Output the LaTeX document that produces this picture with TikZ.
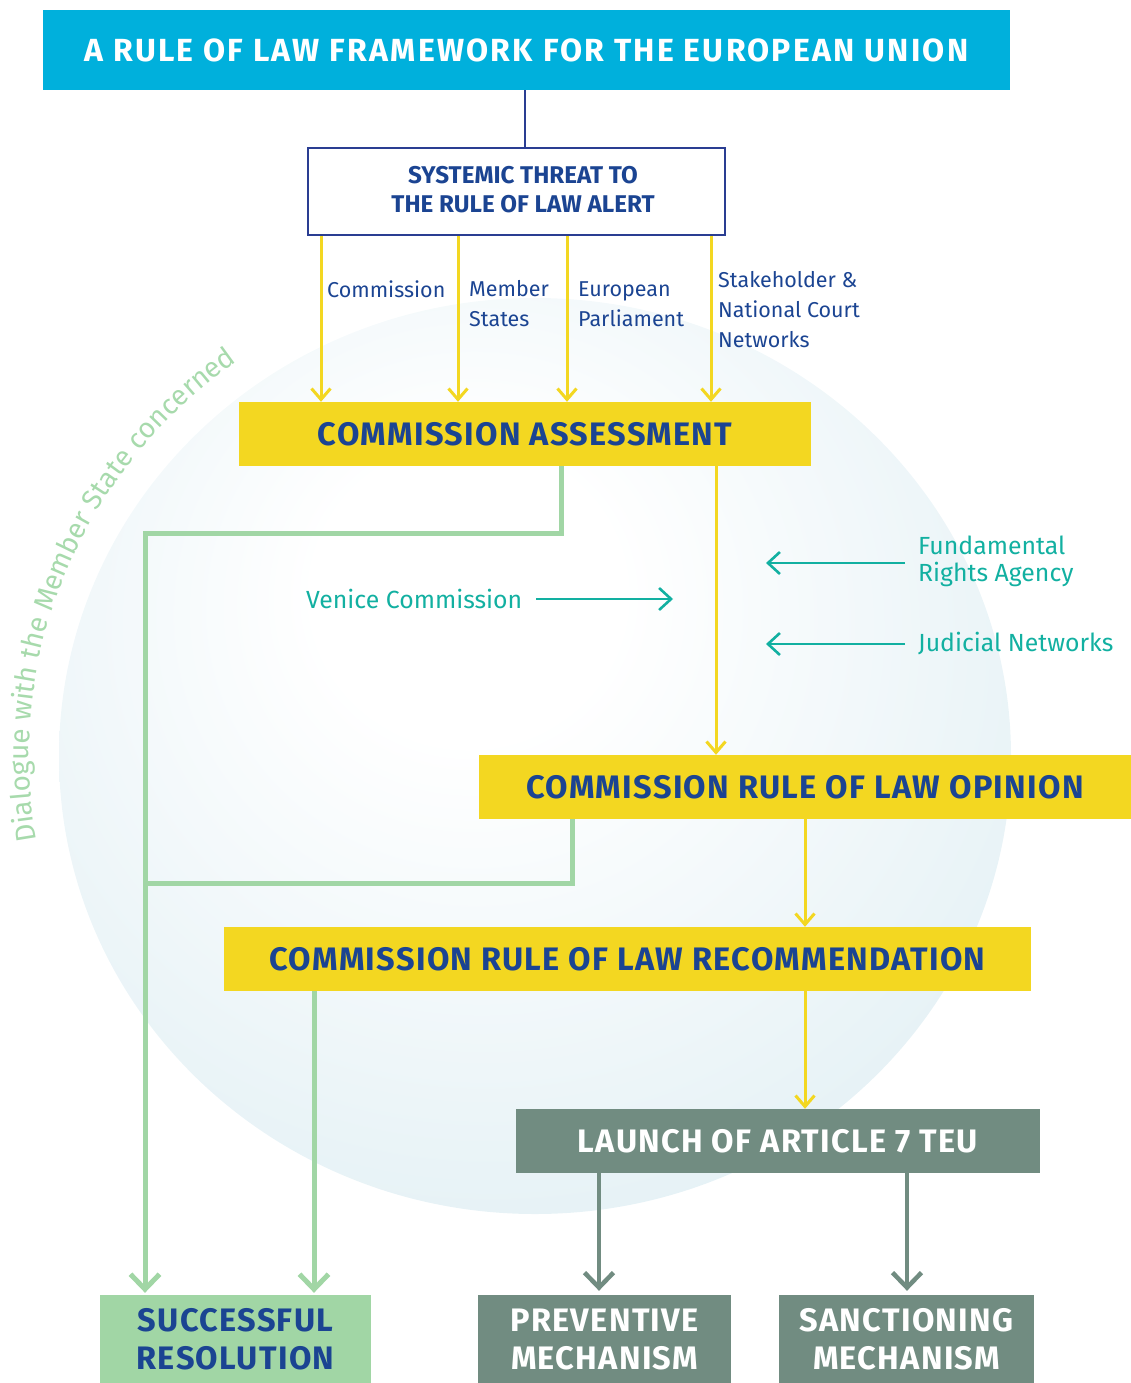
\documentclass[tikz,border=0pt]{standalone}
\usepackage{fontspec}
\setmainfont{Fira Sans}
\usetikzlibrary{arrows.meta,decorations.text}
\definecolor{ecblue}{HTML}{00B0DC}
\definecolor{navy}{HTML}{1B4492}
\definecolor{threatblue}{HTML}{2A3D92}
\definecolor{yel}{HTML}{F3D721}
\definecolor{grn}{HTML}{A1D6A5}
\definecolor{grey}{HTML}{718C81}
\definecolor{tealc}{HTML}{12B0A1}
\definecolor{dgreen}{HTML}{A7DAAC}
\definecolor{bubbleedge}{HTML}{E1EFF4}
\pgfdeclareradialshading{bubble}{\pgfpoint{-4bp}{10bp}}{color(0bp)=(white); color(8bp)=(white); color(36bp)=(bubbleedge); color(70bp)=(bubbleedge)}
\newcommand\hdrfont{\fontsize{32}{36}\selectfont\bfseries\addfontfeature{LetterSpace=7}}
\newcommand\bigfont{\fontsize{32.5}{38}\selectfont\bfseries\addfontfeature{LetterSpace=4}}
\newcommand\threatfont{\fontsize{24.2}{29}\selectfont\bfseries}
\newcommand\labfont{\fontsize{21.5}{30}\selectfont}
\newcommand\tealfont{\fontsize{24.8}{27}\selectfont}
\newcommand\dialfont{\fontsize{28}{28}\selectfont}
\begin{document}
\begin{tikzpicture}[x=1pt,y=-1pt,
  hdr/.style={fill=ecblue,text=white,minimum width=967pt,minimum height=80pt,inner sep=0pt,font=\hdrfont},
  threatbox/.style={draw=threatblue,line width=2.5pt,fill=white,minimum width=417pt,minimum height=87pt,inner sep=0pt},
  threattext/.style={text=navy,inner sep=0pt,align=center,font=\threatfont},
  ybox/.style={fill=yel,text=navy,minimum height=64pt,inner sep=0pt,font=\bigfont},
  gbox/.style={fill=grey,text=white,inner sep=0pt,align=center,font=\bigfont},
  sbox/.style={fill=grn,text=navy,inner sep=0pt,align=center,font=\bigfont},
  blab/.style={text=navy,inner sep=0pt,align=left,anchor=west,font=\labfont},
  tlab/.style={text=tealc,inner sep=0pt,align=left,anchor=west,font=\tealfont},
  yarrow/.style={draw=yel,line width=3pt,-{Straight Barb[length=11pt,width=19pt]}},
  gline/.style={draw=grn,line width=5pt},
  garrow/.style={draw=grn,line width=5pt,-{Straight Barb[length=15pt,width=29pt]},shorten >=2pt},
  karrow/.style={draw=grey,line width=4.5pt,-{Straight Barb[length=15pt,width=29pt]},shorten >=4pt},
  tarrow/.style={draw=tealc,line width=2.6pt,-{Straight Barb[length=12pt,width=22pt]}}
]
\useasboundingbox (0,0) rectangle (1131,1383);
% background bubble
\shade[shading=bubble] (535,756) ellipse [x radius=476, y radius=458];
% dialogue text
\path[decorate,decoration={text along path,text color=dgreen,text align=left,
  text={|\dialfont|Dialogue with the Member State concerned}}]
  (36.7,840.7) arc[start angle=170,end angle=236,x radius=506,y radius=488];
% coordinates
\coordinate (xa) at (321,0);
\coordinate (xb) at (458,0);
\coordinate (xc) at (567,0);
\coordinate (xd) at (711,0);
\coordinate (xe) at (716,0);
\coordinate (xf) at (805,0);
\coordinate (xh) at (525,0);
\coordinate (ga) at (561,0);
\coordinate (gb) at (572,0);
\coordinate (gc) at (145,533);
\coordinate (gd) at (145,883);
\coordinate (ge) at (314,0);
\coordinate (ka) at (599,0);
\coordinate (kb) at (907,0);
\coordinate (vend) at (673,599);
\coordinate (fend) at (766,563);
\coordinate (jend) at (766,644);
% nodes
\node[hdr] (header) at (526.5,50) {A RULE OF LAW FRAMEWORK FOR THE EUROPEAN UNION};
\node[threatbox] (threat) at (516.5,191.5) {};
\node[threattext] (threatlabel) at (523,190) {SYSTEMIC THREAT TO\\THE RULE OF LAW ALERT};
\node[ybox,minimum width=572pt] (ca) at (525,434) {COMMISSION ASSESSMENT};
\node[ybox,minimum width=652pt] (opinion) at (805,787) {COMMISSION RULE OF LAW OPINION};
\node[ybox,minimum width=807pt] (rec) at (627.5,959) {COMMISSION RULE OF LAW RECOMMENDATION};
\node[gbox,minimum width=524pt,minimum height=64pt] (launch) at (778,1141) {LAUNCH OF ARTICLE 7 TEU};
\node[sbox,minimum width=271pt,minimum height=88pt] (success) at (235.5,1339) {SUCCESSFUL\\RESOLUTION};
\node[gbox,minimum width=253pt,minimum height=88pt] (prev) at (604.5,1339) {PREVENTIVE\\MECHANISM};
\node[gbox,minimum width=255pt,minimum height=88pt] (sanc) at (906.5,1339) {SANCTIONING\\MECHANISM};
% labels
\node[blab] (lcom) at (327,289) {Commission};
\node[blab] (lms) at (469,304) {Member\\States};
\node[blab] (lep) at (578,304) {European\\Parliament};
\node[blab] (lsn) at (718,310) {Stakeholder \&\\National Court\\Networks};
\node[tlab] (venice) at (306,599) {Venice Commission};
\node[tlab] (fra) at (918,561.5) {Fundamental\\Rights Agency};
\node[tlab] (jn) at (918,644) {Judicial Networks};
% connectors
\draw[draw=threatblue,line width=2pt] (header.south -| xh) -- (threat.north -| xh);
\draw[yarrow] (threat.south -| xa) -- (ca.north -| xa);
\draw[yarrow] (threat.south -| xb) -- (ca.north -| xb);
\draw[yarrow] (threat.south -| xc) -- (ca.north -| xc);
\draw[yarrow] (threat.south -| xd) -- (ca.north -| xd);
\draw[yarrow] (ca.south -| xe) -- (opinion.north -| xe);
\draw[yarrow] (opinion.south -| xf) -- (rec.north -| xf);
\draw[yarrow] (rec.south -| xf) -- (launch.north -| xf);
\draw[garrow] (ca.south -| ga) |- (gc) -- (success.north -| gc);
\draw[gline] (opinion.south -| gb) |- (gd);
\draw[garrow] (rec.south -| ge) -- (success.north -| ge);
\draw[karrow] (launch.south -| ka) -- (prev.north -| ka);
\draw[karrow] (launch.south -| kb) -- (sanc.north -| kb);
\draw[tarrow] ([xshift=14pt]venice.east) -- (vend);
\draw[tarrow] ([xshift=-13pt]fra.west |- fend) -- (fend);
\draw[tarrow] ([xshift=-13pt]jn.west) -- (jend);
\end{tikzpicture}
\end{document}
